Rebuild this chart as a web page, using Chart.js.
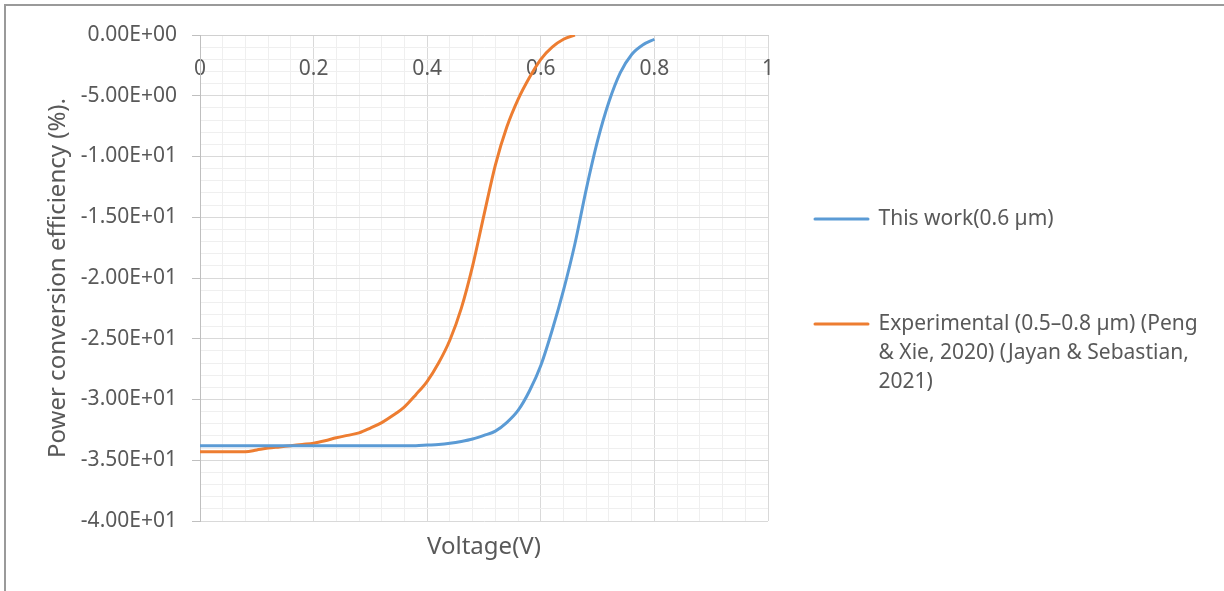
<!DOCTYPE html>
<html>
<head>
<meta charset="utf-8">
<script src="https://cdn.jsdelivr.net/npm/chart.js@4.4.1/dist/chart.umd.min.js"></script>
<style>
  html, body { margin: 0; padding: 0; background: #fff; overflow: hidden; }
  #frame { position: absolute; left: 4px; top: 4px; width: 1240px; height: 620px;
           border-top: 2px solid #9a9a9a; border-left: 2px solid #9a9a9a; }
  #chart { position: absolute; left: 0; top: 0; }
</style>
</head>
<body>
<div id="frame"></div>
<canvas id="chart" width="1224" height="591"></canvas>
<script>
// Series (voltage in V, efficiency in %)
const thisWorkVoltage = [0, 0.02, 0.04, 0.06, 0.08, 0.10, 0.12, 0.14, 0.16, 0.18,
  0.20, 0.22, 0.24, 0.26, 0.28, 0.30, 0.32, 0.34, 0.36, 0.38,
  0.40, 0.42, 0.44, 0.46, 0.48, 0.50, 0.52, 0.54, 0.56, 0.58,
  0.60, 0.62, 0.64, 0.66, 0.68, 0.70, 0.72, 0.74, 0.76, 0.78, 0.80];
const thisWorkEfficiency = [-33.8, -33.8, -33.8, -33.8, -33.8, -33.8, -33.8, -33.8, -33.8, -33.8,
  -33.8, -33.8, -33.8, -33.8, -33.8, -33.8, -33.8, -33.8, -33.8, -33.8,
  -33.75, -33.7, -33.6, -33.45, -33.25, -32.95, -32.6, -31.9, -30.9, -29.3,
  -27.2, -24.3, -21.0, -17.2, -12.7, -8.7, -5.5, -3.1, -1.6, -0.8, -0.35];

const experimentalVoltage = [0, 0.02, 0.04, 0.06, 0.08, 0.10, 0.12, 0.14, 0.16, 0.18,
  0.20, 0.22, 0.24, 0.26, 0.28, 0.30, 0.32, 0.34, 0.36, 0.38,
  0.40, 0.42, 0.44, 0.46, 0.48, 0.50, 0.52, 0.54, 0.56, 0.58,
  0.60, 0.62, 0.64, 0.66];
const experimentalEfficiency = [-34.3, -34.3, -34.3, -34.3, -34.3, -34.15, -34.0, -33.9, -33.8, -33.7,
  -33.6, -33.4, -33.15, -32.95, -32.75, -32.35, -31.9, -31.3, -30.6, -29.6,
  -28.5, -27.0, -25.1, -22.5, -19.0, -14.8, -10.7, -7.6, -5.3, -3.5,
  -2.0, -1.0, -0.35, 0];

const xMajorTicks = [0, 0.2, 0.4, 0.6, 0.8, 1];
const yMajorTicks = [0, -5, -10, -15, -20, -25, -30, -35, -40];

const legendLines = [
  ['This work(0.6 µm)', ''],
  ['Experimental (0.5–0.8 µm) (Peng', '& Xie, 2020) (Jayan & Sebastian,', '2021)']
];

const BLUE = '#5b9bd5';
const ORANGE = '#ed7d31';
const TEXT = '#595959';
const FONT = '"Noto Sans", sans-serif';
const TICK_SIZE = 21;
const LEGEND_SIZE = 21;

Chart.defaults.font.family = FONT;
Chart.defaults.color = TEXT;

function isMajor(list, v) {
  return list.some(m => Math.abs(m - v) < 1e-6);
}

// Excel style 0.00E+00
function sci(v) {
  if (v === 0) return '0.00E+00';
  const exp = Math.floor(Math.log10(Math.abs(v)));
  const mant = v / Math.pow(10, exp);
  const sign = exp < 0 ? '-' : '+';
  return mant.toFixed(2) + 'E' + sign + String(Math.abs(exp)).padStart(2, '0');
}

// legend sits right after the plot area, so size the right padding from its text
const mctx = document.createElement('canvas').getContext('2d');
mctx.font = LEGEND_SIZE + 'px ' + FONT;
const longest = legendLines.flat().reduce((a, b) => a.length > b.length ? a : b);
const legendPad = 47;
const lineSample = 53;
const legendWidth = 10 + legendPad + lineSample + LEGEND_SIZE / 2 + mctx.measureText(longest).width;
const padRight = Math.max(0, 1224 - 768 - legendWidth);

const toPoints = (xs, ys) => xs.map((x, i) => ({ x, y: ys[i] }));

new Chart(document.getElementById('chart'), {
  type: 'scatter',
  data: {
    datasets: [{
      label: legendLines[0].join(' '),
      data: toPoints(thisWorkVoltage, thisWorkEfficiency),
      borderColor: BLUE,
      backgroundColor: BLUE,
      borderWidth: 3,
      showLine: true,
      pointRadius: 0,
      cubicInterpolationMode: 'monotone'
    }, {
      label: legendLines[1].join(' '),
      data: toPoints(experimentalVoltage, experimentalEfficiency),
      borderColor: ORANGE,
      backgroundColor: ORANGE,
      borderWidth: 3,
      showLine: true,
      pointRadius: 0,
      cubicInterpolationMode: 'monotone'
    }]
  },
  options: {
    responsive: false,
    animation: false,
    layout: { padding: { top: 35, bottom: 17, left: 0, right: padRight } },
    scales: {
      x: {
        type: 'linear',
        position: { y: 0 },
        min: 0,
        max: 1,
        ticks: {
          stepSize: 0.04,
          autoSkip: false,
          maxRotation: 0,
          padding: 21,
          font: { size: TICK_SIZE },
          color: TEXT,
          callback: v => isMajor(xMajorTicks, v) ? String(Math.round(v * 10) / 10) : ''
        },
        grid: {
          drawTicks: false,
          color: c => isMajor(xMajorTicks, c.tick.value) ? '#d9d9d9' : '#efefef'
        },
        border: { color: '#d0d0d0' },
        title: { display: false }
      },
      y: {
        min: -40,
        max: 0,
        afterFit: s => { s.width = 200; },
        ticks: {
          stepSize: 1,
          autoSkip: false,
          padding: 15,
          font: { size: TICK_SIZE },
          color: TEXT,
          callback: v => isMajor(yMajorTicks, v) ? sci(v) : ''
        },
        grid: {
          tickLength: 8,
          color: c => isMajor(yMajorTicks, c.tick.value) ? '#d9d9d9' : '#efefef',
          tickColor: c => isMajor(yMajorTicks, c.tick.value) ? '#bfbfbf' : 'rgba(0,0,0,0)'
        },
        border: { color: '#bfbfbf' },
        title: {
          display: true,
          text: 'Power conversion efficiency (%).',
          color: TEXT,
          font: { size: 24 },
          padding: { top: 43.6, bottom: 0 }
        }
      }
    },
    plugins: {
      tooltip: { enabled: false },
      title: {
        display: true,
        position: 'bottom',
        fullSize: false,
        text: 'Voltage(V)',
        color: TEXT,
        font: { size: 24, weight: 'normal' },
        padding: { top: 11.6, bottom: 12.6 }
      },
      legend: {
        position: 'right',
        align: 'center',
        maxWidth: 600,
        labels: {
          usePointStyle: true,
          pointStyle: 'line',
          pointStyleWidth: lineSample,
          padding: legendPad,
          color: TEXT,
          font: { size: LEGEND_SIZE, lineHeight: 29 / LEGEND_SIZE },
          generateLabels: chart => chart.data.datasets.map((ds, i) => ({
            text: legendLines[i],
            strokeStyle: ds.borderColor,
            fillStyle: ds.borderColor,
            lineWidth: 3,
            lineCap: 'round',
            pointStyle: 'line',
            hidden: false,
            datasetIndex: i,
            fontColor: TEXT
          }))
        }
      }
    }
  }
});
</script>
</body>
</html>
